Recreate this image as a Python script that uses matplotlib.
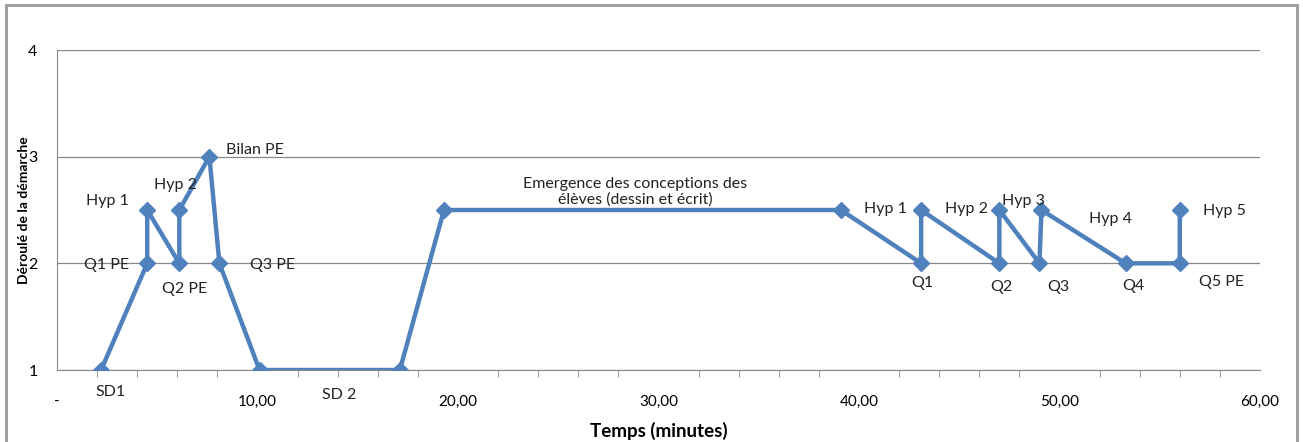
import matplotlib.pyplot as plt
from matplotlib.patches import Rectangle
from matplotlib.ticker import FuncFormatter, MultipleLocator

plt.rcParams['font.family'] = ['Lato', 'DejaVu Sans']

# temps (minutes) et étape de la démarche
temps = [2.2, 4.5, 4.5, 6.1, 6.1, 7.6, 8.1, 10.1, 17.1, 19.3,
         39.1, 43.1, 43.1, 47.0, 47.0, 49.0, 49.1, 53.3, 56.0, 56.0]
etape = [1, 2, 2.5, 2, 2.5, 3, 2, 1, 1, 2.5,
         2.5, 2, 2.5, 2, 2.5, 2, 2.5, 2, 2, 2.5]
etiquettes = ["SD1", "Q1 PE", "Hyp 1", "Q2 PE", "Hyp 2", "Bilan PE", "Q3 PE", "", "SD 2", "",
              "Emergence des conceptions des\nélèves (dessin et écrit)",
              "Q1", "Hyp 1", "Q2", "Hyp 2", "Q3", "Hyp 3", "Q4", "Q5 PE", "Hyp 5"]
# décalage des étiquettes (pixels)
decalages = [(9, -22), (-41, -2), (-40, 9), (5, -26), (-4, 25), (46, 7), (53, -2), (0, 0), (-61, -25), (0, 0),
             (-206, 18), (1, -20), (-36, 1), (2, -24), (-33, 1), (19, -24), (-18, 9), (8, -23), (42, -19), (45, -1)]

bleu = "#4F81BD"

fig = plt.figure(figsize=(13.03, 4.42), dpi=100)
ax = fig.add_axes([57/1303, 1-370/442, (1260-57)/1303, (370-50)/442])

ax.plot(temps, etape, color=bleu, lw=3.2, marker="D", markersize=8, zorder=3)

for x, y, t, (dx, dy) in zip(temps, etape, etiquettes, decalages):
    if t:
        ax.annotate(t, (x, y), xytext=(dx, dy), textcoords="offset pixels",
                    ha="center", va="center", fontsize=11.5, color="#222222",
                    linespacing=1.15)
# Hyp 4 : texte libre près de Q4
ax.annotate("Hyp 4", (temps[17], etape[17]), xytext=(-15, 44), textcoords="offset pixels",
            ha="center", va="center", fontsize=11.5, color="#222222")

ax.set_xlim(0, 60)
ax.set_ylim(1, 4)
ax.set_yticks([1, 2, 3, 4])
ax.xaxis.set_major_locator(MultipleLocator(10))
ax.xaxis.set_minor_locator(MultipleLocator(2))
ax.xaxis.set_major_formatter(FuncFormatter(lambda v, p: "-" if v == 0 else f"{v:.2f}".replace(".", ",")))
ax.grid(axis="y", color="#888888", lw=0.9)
for s in ["top", "right"]:
    ax.spines[s].set_visible(False)
ax.spines["left"].set_color("#888888")
ax.spines["bottom"].set_color("#888888")
ax.tick_params(axis="x", which="both", length=5, direction="out", color="#888888",
               pad=18, labelsize=11)
ax.tick_params(axis="x", which="major", length=0)
ax.tick_params(axis="y", length=0, pad=14, labelsize=11.5)

ax.set_xlabel("Temps (minutes)", fontweight="bold", fontsize=13.5, labelpad=9)
ax.set_ylabel("Déroulé de la démarche", fontweight="bold", fontsize=10, labelpad=-1)

fig.patches.append(Rectangle((6/1303, -0.05), (1297-6)/1303, 1.05-5/442,
                             transform=fig.transFigure, fill=False, edgecolor="#999999", lw=2))

fig.savefig("out.png", dpi=100)
